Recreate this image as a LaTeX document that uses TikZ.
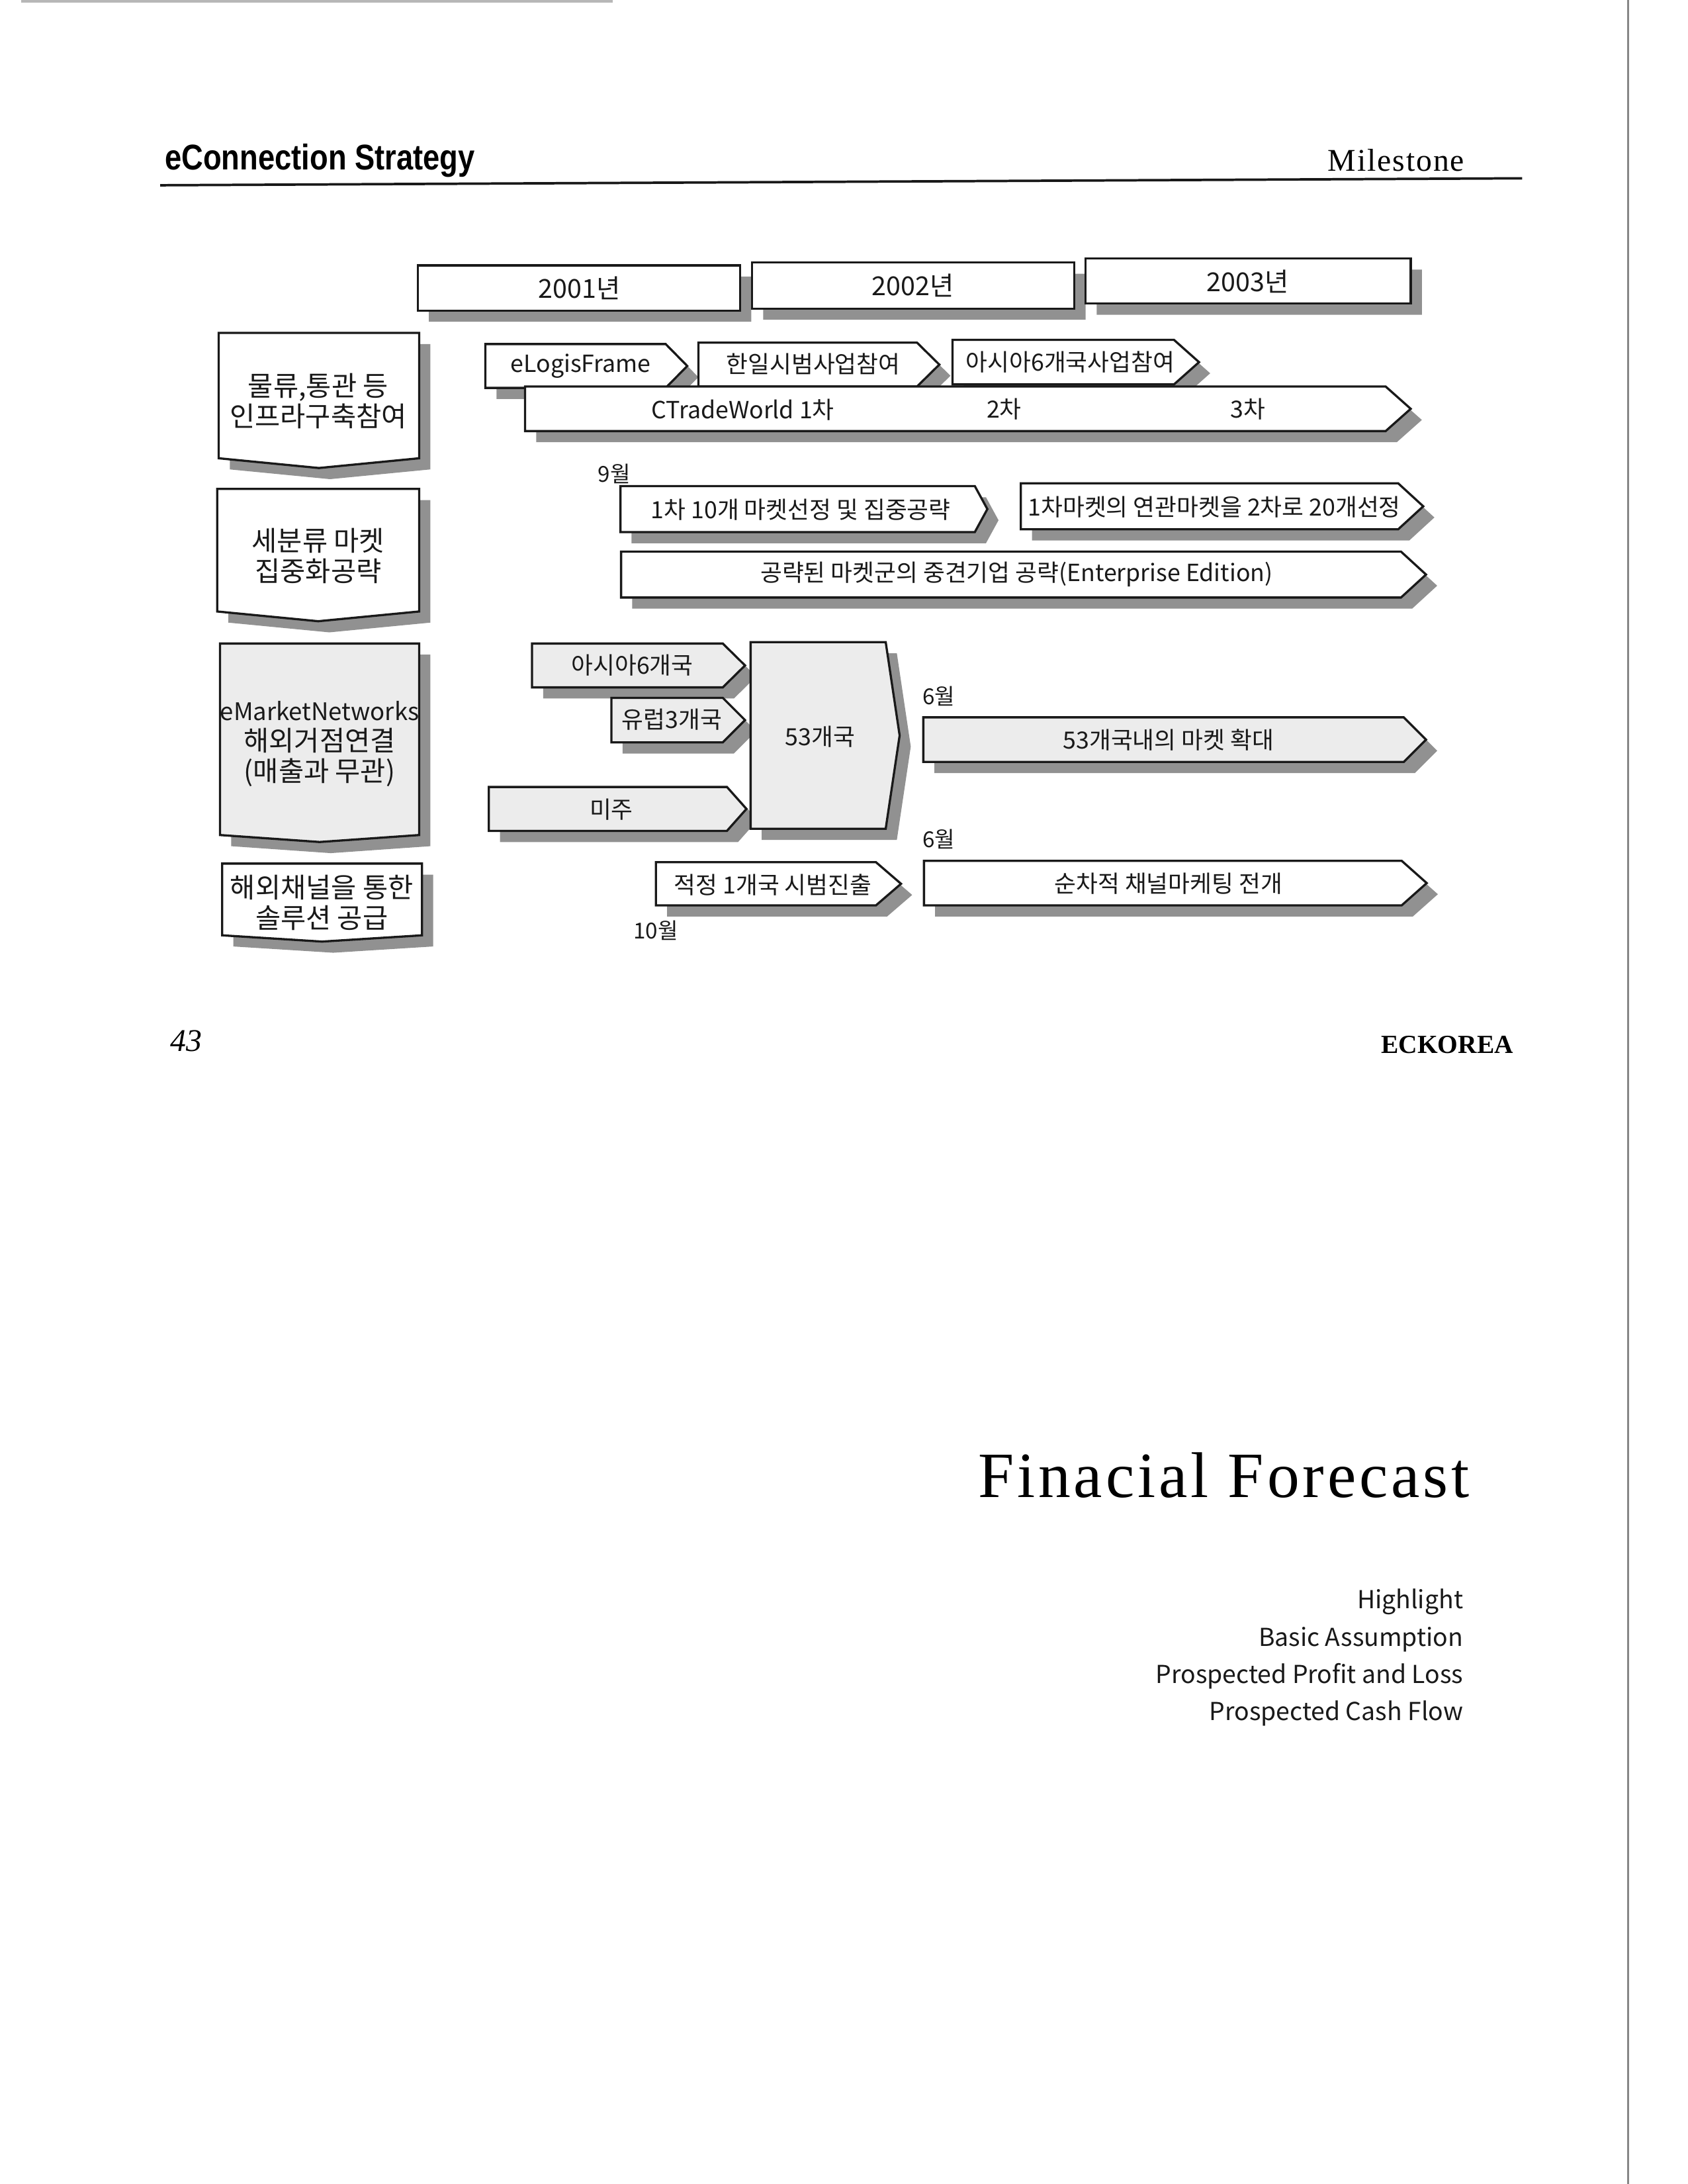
\documentclass[tikz,border=0pt]{standalone}
\usepackage{fontspec}
\setmainfont{Liberation Serif}
\newfontfamily\krfont{Noto Sans CJK KR}
\newfontfamily\hdsans{Liberation Sans}
\definecolor{ink}{RGB}{25,25,25}
\definecolor{haze}{RGB}{236,236,236}
\definecolor{smoke}{RGB}{145,145,145}
\definecolor{scan}{RGB}{135,135,135}
\tikzset{
  outline/.style={draw=ink,line width=0.8pt},
  drop/.style={fill=smoke},
  lbl/.style={font=\krfont\fontsize{8.6}{10}\selectfont,text=ink,inner sep=0pt,align=center},
  catlbl/.style={lbl,font=\krfont\fontsize{10}{11}\selectfont},
  yearlbl/.style={lbl,font=\krfont\fontsize{9.5}{11}\selectfont},
  month/.style={lbl,font=\krfont\fontsize{8}{10}\selectfont},
  topic/.style={font=\krfont\fontsize{9}{12}\selectfont,text=ink,inner sep=0pt,anchor=base east},
  % shapes: width, height, tip, fill
  pics/chev/.style n args={4}{code={
    \fill[drop,shift={(8,8)}] (0,0) -- ({#1-#3},0) -- (#1,{#2/2}) -- ({#1-#3},#2) -- (0,#2) -- cycle;
    \draw[outline,fill=#4] (0,0) -- ({#1-#3},0) -- (#1,{#2/2}) -- ({#1-#3},#2) -- (0,#2) -- cycle;
  }},
  pics/pennant/.style n args={4}{code={
    \fill[drop,shift={(8,8)}] (0,0) -- (#1,0) -- (#1,{#2-#3}) -- ({#1/2},#2) -- (0,{#2-#3}) -- cycle;
    \draw[outline,fill=#4] (0,0) -- (#1,0) -- (#1,{#2-#3}) -- ({#1/2},#2) -- (0,{#2-#3}) -- cycle;
  }},
}
\begin{document}
\begin{tikzpicture}[x=0.17814mm,y=-0.17814mm]
  \useasboundingbox (0,0) rectangle (1212,1568);
  \draw[scan,line width=0.7pt] (1169,0) -- (1169,1568);
  \draw[scan!60,line width=1pt] (15,1) -- (440,1);
  \node[anchor=base west,inner sep=0pt] (title) at (118,122) {\scalebox{0.84}[1]{\hdsans\bfseries\fontsize{13}{15}\selectfont eConnection Strategy}};
  \node[anchor=base east,inner sep=0pt,font=\fontsize{11.5}{14}\selectfont\addfontfeatures{LetterSpace=4}] (milestone) at (1052,123) {Milestone};
  \draw[ink,line width=0.9pt] (115,133) -- (1093,128);

  \pic at (300,190.5) {chev={231.5}{32.5}{0}{white}};
  \pic at (540,188.5) {chev={231.5}{33}{0}{white}};
  \pic at (779.5,185.5) {chev={233.5}{32.5}{0}{white}};
  \node[yearlbl] (y2001) at (416,207) {2001년};
  \node[yearlbl] (y2002) at (655.5,205) {2002년};
  \node[yearlbl] (y2003) at (896,202) {2003년};

  \pic at (157,239) {pennant={144}{97}{7}{white}};
  \pic at (156,351) {pennant={145}{95}{7}{white}};
  \pic at (158,462) {pennant={143}{142.5}{5}{haze}};
  \pic at (159.5,620) {pennant={143.5}{56}{4.5}{white}};
  \node[catlbl] (infra) at (228.5,288) {물류,통관 등\\인프라구축참여};
  \node[catlbl] (niche) at (228.5,399) {세분류 마켓\\집중화공략};
  \node[catlbl] (emkt) at (229.5,534) {{\fontsize{8.8}{11}\selectfont eMarketNetworks}\\해외거점연결\\(매출과 무관)};
  \node[catlbl] (channel) at (231,648) {해외채널을 통한\\솔루션 공급};

  \pic at (348.5,247) {chev={145}{31.5}{15.5}{white}};
  \pic at (501.5,246) {chev={173}{31.5}{16}{white}};
  \pic at (684,244) {chev={177}{32}{18}{white}};
  \pic at (377,277.5) {chev={636}{32}{18}{white}};
  \node[lbl] (elogis) at (417,263) {eLogisFrame};
  \node[lbl] (kj) at (584,261.5) {한일시범사업참여};
  \node[lbl] (asia6a) at (768.5,260) {아시아6개국사업참여};
  \node[lbl] (ctw1) at (533.5,294) {CTradeWorld 1차};
  \node[lbl] (ctw2) at (721,293.5) {2차};
  \node[lbl] (ctw3) at (896,293.5) {3차};

  \node[month] (sep) at (441,340) {9월};
  \pic at (445.5,349) {chev={263.5}{33}{9}{white}};
  \pic at (733,347) {chev={289}{33}{18}{white}};
  \pic at (446,396) {chev={578}{33}{18}{white}};
  \node[lbl] (first) at (575,366) {1차 10개 마켓선정 및 집중공략};
  \node[lbl] (second) at (872,364) {1차마켓의 연관마켓을 2차로 20개선정};
  \node[lbl] (mid) at (730,412.5) {공략된 마켓군의 중견기업 공략(Enterprise Edition)};

  \pic at (382,462) {chev={153}{31.5}{16}{haze}};
  \pic at (439,501) {chev={96}{32}{16}{haze}};
  \pic at (351,565) {chev={185}{31.5}{14}{haze}};
  \pic at (539,461) {chev={107}{134}{10}{haze}};
  \pic at (663,515) {chev={361}{32}{16}{haze}};
  \node[lbl] (asia6) at (454,477.5) {아시아6개국};
  \node[lbl] (eu3) at (482.5,516.5) {유럽3개국};
  \node[lbl] (us) at (439,581) {미주};
  \node[lbl] (all53) at (589,529) {53개국};
  \node[month] (jun1) at (674,500) {6월};
  \node[lbl] (grow) at (839,531) {53개국내의 마켓 확대};

  \pic at (471,619) {chev={176}{31}{18}{white}};
  \pic at (663.5,618) {chev={361}{32}{18}{white}};
  \node[lbl] (pilot) at (555,635.5) {적정 1개국 시범진출};
  \node[lbl] (seq) at (839,634.5) {순차적 채널마케팅 전개};
  \node[month] (jun2) at (674,602.5) {6월};
  \node[month] (oct) at (471,668) {10월};

  \node[anchor=base west,inner sep=0pt,font=\fontsize{11.5}{14}\selectfont\itshape] (page) at (122,755) {43};
  \node[anchor=base east,inner sep=0pt,font=\fontsize{9.5}{12}\selectfont\bfseries] (brand) at (1087,756) {ECKOREA};

  \node[anchor=base west,inner sep=0pt,font=\fontsize{23.5}{28}\selectfont\addfontfeatures{LetterSpace=5}] (forecast) at (702,1075) {Finacial Forecast};
  \node[topic] (hl) at (1051,1155) {Highlight};
  \node[topic] (ba) at (1051,1182) {Basic Assumption};
  \node[topic] (ppl) at (1051,1208.5) {Prospected Profit and Loss};
  \node[topic] (pcf) at (1051,1235) {Prospected Cash Flow};
\end{tikzpicture}
\end{document}
